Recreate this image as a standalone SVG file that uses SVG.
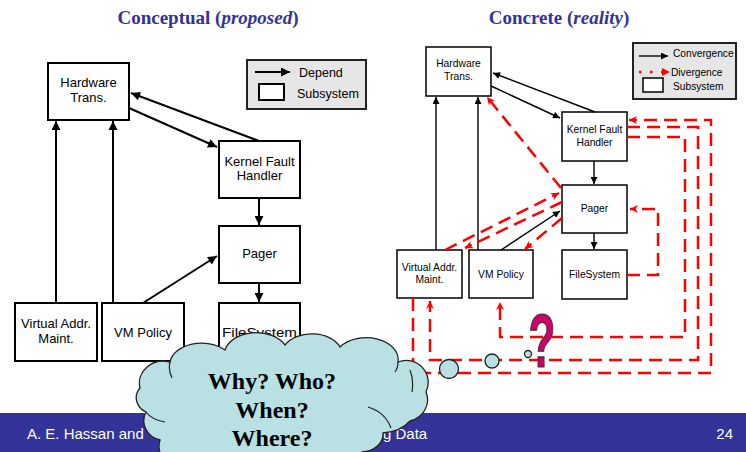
<svg xmlns="http://www.w3.org/2000/svg" width="746" height="452" viewBox="0 0 746 452">
  <defs>
    <marker id="arr" viewBox="0 0 10 10" refX="10" refY="5" markerWidth="11" markerHeight="9" orient="auto" markerUnits="userSpaceOnUse">
      <path d="M0,0 L10,5 L0,10 Z" fill="#000"/>
    </marker>
    <marker id="arr-s" viewBox="0 0 10 10" refX="10" refY="5" markerWidth="9" markerHeight="7" orient="auto" markerUnits="userSpaceOnUse">
      <path d="M0,0 L10,5 L0,10 Z" fill="#000"/>
    </marker>
    <marker id="arr-r" viewBox="0 0 10 10" refX="10" refY="5" markerWidth="10" markerHeight="8" orient="auto" markerUnits="userSpaceOnUse">
      <path d="M0,0 L10,5 L0,10 L3,5 Z" fill="#f00"/>
    </marker>
  </defs>
  <style>
    .title { font-family: "Liberation Serif", "Times New Roman", serif; font-weight: bold; font-size: 19px; fill: #333399; text-anchor: middle; }
    .box { fill: #fff; stroke: #000; stroke-width: 2; }
    .box-s { fill: #fff; stroke: #000; stroke-width: 1.5; }
    .lbl { font-family: "Liberation Sans", Arial, sans-serif; font-size: 13px; fill: #000; text-anchor: middle; }
    .lbl-s { font-family: "Liberation Sans", Arial, sans-serif; font-size: 10.3px; fill: #000; text-anchor: middle; }
    .leg { font-family: "Liberation Sans", Arial, sans-serif; font-size: 12.5px; fill: #000; }
    .leg-s { font-family: "Liberation Sans", Arial, sans-serif; font-size: 10.2px; fill: #000; }
    .dep { fill: none; stroke: #000; stroke-width: 2; marker-end: url(#arr); }
    .dep-s { fill: none; stroke: #000; stroke-width: 1.4; marker-end: url(#arr-s); }
    .div { fill: none; stroke: #f00; stroke-width: 2.5; stroke-dasharray: 13 7; marker-end: url(#arr-r); }
    .legbox { fill: #e6e6e6; stroke: #222; stroke-width: 2; }
    .cloud { fill: #b9e0e3; stroke: #222; stroke-width: 1.3; }
    .foot { font-family: "Liberation Sans", Arial, sans-serif; font-size: 15px; fill: #fff; }
    .ask { font-family: "Liberation Serif", "Times New Roman", serif; font-weight: bold; font-size: 24px; fill: #000; text-anchor: middle; }
  </style>

  <rect width="746" height="452" fill="#fff"/>

  <!-- Titles -->
  <text class="title" x="208" y="24">Conceptual (<tspan font-style="italic">proposed</tspan>)</text>
  <text class="title" x="559" y="24">Concrete (<tspan font-style="italic">reality</tspan>)</text>

  <!-- ===== Conceptual architecture ===== -->
  <g id="legend-conceptual">
    <rect class="legbox" x="247" y="60" width="119" height="49"/>
    <line x1="255" y1="72" x2="290" y2="72" class="dep"/>
    <text class="leg" x="299" y="77">Depend</text>
    <rect class="box" x="259" y="84" width="25" height="16"/>
    <text class="leg" x="297" y="98">Subsystem</text>
  </g>

  <g id="c-hardware">
    <rect class="box" x="48" y="63" width="81" height="57"/>
    <text class="lbl" x="88.5" y="87">Hardware</text>
    <text class="lbl" x="88.5" y="102">Trans.</text>
  </g>
  <g id="c-kernel">
    <rect class="box" x="219" y="141" width="81" height="57"/>
    <text class="lbl" x="259.5" y="166">Kernel Fault</text>
    <text class="lbl" x="259.5" y="180">Handler</text>
  </g>
  <g id="c-pager">
    <rect class="box" x="219" y="226" width="81" height="57"/>
    <text class="lbl" x="259.5" y="258">Pager</text>
  </g>
  <g id="c-filesystem">
    <rect class="box" x="219" y="303" width="81" height="57"/>
    <text class="lbl" x="259.5" y="337" textLength="75" lengthAdjust="spacingAndGlyphs">FileSystem</text>
  </g>
  <g id="c-vaddr">
    <rect class="box" x="15" y="303" width="82" height="58"/>
    <text class="lbl" x="56" y="328">Virtual Addr.</text>
    <text class="lbl" x="56" y="343">Maint.</text>
  </g>
  <g id="c-vmpolicy">
    <rect class="box" x="102" y="303" width="82" height="58"/>
    <text class="lbl" x="143" y="337">VM Policy</text>
  </g>

  <g id="c-connectors">
    <line class="dep" x1="259" y1="141" x2="131" y2="93"/>
    <line class="dep" x1="129" y1="108" x2="217" y2="147"/>
    <line class="dep" x1="259" y1="198" x2="259" y2="225"/>
    <line class="dep" x1="259" y1="283" x2="259" y2="302"/>
    <line class="dep" x1="56" y1="303" x2="56" y2="121"/>
    <line class="dep" x1="113" y1="303" x2="113" y2="121"/>
    <line class="dep" x1="143" y1="303" x2="217" y2="256"/>
  </g>

  <!-- ===== Concrete architecture ===== -->
  <g id="legend-concrete">
    <rect class="legbox" x="633" y="43" width="103" height="56"/>
    <line x1="639" y1="56" x2="668" y2="56" class="dep-s"/>
    <text class="leg-s" x="673" y="57">Convergence</text>
    <line x1="639" y1="72" x2="662" y2="72" stroke="#f00" stroke-width="2.5" stroke-dasharray="2.5 8.5"/>
    <path d="M662,68 L670,72 L662,76 Z" fill="#f00"/>
    <text class="leg-s" x="671" y="76">Divergence</text>
    <rect class="box-s" x="643" y="78" width="20" height="14"/>
    <text class="leg-s" x="673" y="90">Subsystem</text>
  </g>

  <g id="r-hardware">
    <rect class="box-s" x="426" y="47" width="65" height="49"/>
    <text class="lbl-s" x="458.5" y="67">Hardware</text>
    <text class="lbl-s" x="458.5" y="80">Trans.</text>
  </g>
  <g id="r-kernel">
    <rect class="box-s" x="562" y="112" width="65" height="49"/>
    <text class="lbl-s" x="594.5" y="133">Kernel Fault</text>
    <text class="lbl-s" x="594.5" y="146">Handler</text>
  </g>
  <g id="r-pager">
    <rect class="box-s" x="562" y="185" width="65" height="48"/>
    <text class="lbl-s" x="594.5" y="212">Pager</text>
  </g>
  <g id="r-filesystem">
    <rect class="box-s" x="562" y="250" width="65" height="49"/>
    <text class="lbl-s" x="594.5" y="278">FileSystem</text>
  </g>
  <g id="r-vaddr">
    <rect class="box-s" x="397" y="250" width="65" height="48"/>
    <text class="lbl-s" x="429.5" y="271">Virtual Addr.</text>
    <text class="lbl-s" x="429.5" y="283">Maint.</text>
  </g>
  <g id="r-vmpolicy">
    <rect class="box-s" x="469" y="250" width="64" height="48"/>
    <text class="lbl-s" x="501" y="278">VM Policy</text>
  </g>

  <g id="r-connectors">
    <!-- convergences -->
    <line class="dep-s" x1="595" y1="112" x2="493" y2="73"/>
    <line class="dep-s" x1="491" y1="86" x2="560" y2="118"/>
    <line class="dep-s" x1="594" y1="161" x2="594" y2="184"/>
    <line class="dep-s" x1="594" y1="233" x2="594" y2="249"/>
    <line class="dep-s" x1="436" y1="250" x2="436" y2="97"/>
    <line class="dep-s" x1="478" y1="250" x2="478" y2="97"/>
    <line class="dep-s" x1="501" y1="250" x2="560" y2="211"/>
    <!-- divergences -->
    <line class="div" x1="561" y1="188" x2="487" y2="97"/>
    <line class="div" x1="445" y1="250" x2="559" y2="193"/>
    <line class="div" x1="562" y1="202" x2="465" y2="248"/>
    <line class="div" x1="562" y1="218" x2="525" y2="249"/>
    <path class="div" d="M627,275 H658 V209 H630"/>
    <path class="div" d="M413,298 V373 H711 V120 H629"/>
    <path class="div" d="M627,127 H698 V360 H430 V301"/>
    <path class="div" d="M627,137 H685 V337 H500 V302"/>
  </g>

  <!-- question mark -->
  <text x="0" y="0" transform="translate(542,367) scale(0.58,1)" font-family="'Liberation Sans', Arial, sans-serif" font-weight="bold" font-size="76" fill="#cc0066" stroke="#333" stroke-width="1.2" text-anchor="middle">?</text>

  <!-- footer bar -->
  <rect x="0" y="413" width="746" height="39" fill="#333399"/>
  <text class="foot" x="27" y="439">A. E. Hassan and</text>
  <text class="foot" x="383" y="439">g Data</text>
  <text class="foot" x="733" y="439" text-anchor="end">24</text>

  <!-- thought bubbles -->
  <g id="thought">
    <circle class="cloud" cx="528" cy="354" r="3.5"/>
    <circle class="cloud" cx="492" cy="361" r="7"/>
    <circle class="cloud" cx="449" cy="369" r="9.5"/>
    <path class="cloud" d="M160,440 A22,20 0 0 1 146,412 A18,16 0 0 1 140,388 A24,22 0 0 1 170,362 A32,22 0 0 1 225,350 A32,22 0 0 1 285,345 A30,20 0 0 1 340,347 A32,22 0 0 1 398,362 A22,22 0 0 1 426,392 A24,22 0 0 1 410,421 A36,26 0 0 1 383,433 A22,18 0 0 1 362,452 L350,470 L190,470 A30,24 0 0 1 160,440 Z"/>
    <path d="M146,412 Q152,420 165,422 M368,407 Q385,412 391,428 M412,392 Q414,380 410,370 M170,362 Q168,370 172,378 M398,362 Q398,368 395,372" fill="none" stroke="#222" stroke-width="1.2"/>
    <text class="ask" x="272" y="389">Why? Who?</text>
    <text class="ask" x="272" y="418">When?</text>
    <text class="ask" x="272" y="446">Where?</text>
  </g>
</svg>
